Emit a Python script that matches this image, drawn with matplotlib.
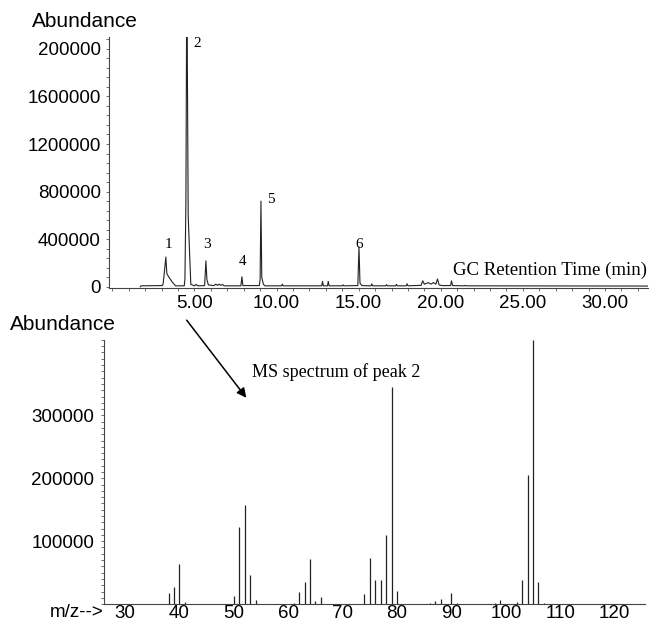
import matplotlib
matplotlib.use("Agg")
import matplotlib.pyplot as plt
from matplotlib.ticker import MultipleLocator

# --- GC chromatogram (retention time in min, abundance) ---
gc_time = [1.70, 1.75, 3.05, 3.10, 3.26, 3.32, 3.45, 3.65, 3.85, 4.38, 4.42, 4.48,
           4.52, 4.56, 4.62, 4.70, 4.78, 5.00, 5.10, 5.20, 5.62, 5.70, 5.76, 5.85,
           6.20, 6.30, 6.40, 6.50, 6.60, 6.70, 6.80, 7.83, 7.89, 7.95, 8.95, 9.00,
           9.05, 9.10, 9.20, 9.30, 10.30, 10.35, 10.40, 12.75, 12.80, 12.85, 13.10,
           13.15, 13.20, 14.00, 14.05, 14.10, 14.95, 15.02, 15.08, 15.20, 15.75,
           15.80, 15.85, 16.65, 16.70, 16.75, 17.25, 17.30, 17.35, 17.90, 17.95,
           18.00, 18.80, 18.90, 19.00, 19.25, 19.40, 19.55, 19.70, 19.80, 19.90,
           20.10, 20.60, 20.65, 20.72, 21.45, 21.50, 21.55, 32.60]
gc_abund = [0, 8000, 10000, 30000, 250000, 110000, 80000, 40000, 8000, 8000, 60000, 700000,
            2100000, 2100000, 600000, 300000, 20000, 8000, 20000, 8000, 10000, 218000, 60000, 15000,
            10000, 22000, 12000, 22000, 12000, 20000, 8000, 8000, 84000, 10000, 10000, 60000,
            720000, 80000, 20000, 8000, 8000, 22000, 8000, 8000, 45000, 8000, 8000,
            45000, 8000, 8000, 16000, 8000, 10000, 335000, 30000, 10000, 8000,
            25000, 8000, 8000, 18000, 8000, 8000, 20000, 8000, 8000, 25000,
            8000, 12000, 50000, 22000, 35000, 22000, 35000, 22000, 65000, 15000,
            10000, 10000, 50000, 10000, 8000, 12000, 8000, 6000]

gc_ticks = [5, 10, 15, 20, 25, 30]
gc_ticklabels = ["5.00", "10.00", "15.00", "20.00", "25.00", "30.00"]
gc_yticks = [0, 400000, 800000, 1200000, 1600000, 2000000]
gc_yticklabels = ["0", "400000", "800000", "1200000", "1600000", "200000"]

# peak labels: number, time, abundance
peak_names = ["1", "2", "3", "4", "5", "6"]
peak_time = [3.45, 5.15, 5.75, 7.95, 9.65, 15.05]
peak_abund = [300000, 1990000, 300000, 160000, 680000, 300000]

# --- MS spectrum of peak 2 (m/z, abundance) ---
mz = [38, 39, 40, 41, 50, 51, 52, 53, 54, 61, 62, 63, 64, 65, 66,
      74, 75, 76, 77, 78, 79, 80, 86, 87, 88, 90, 91,
      98, 99, 102, 103, 104, 105, 106, 107]
ms_abund = [17000, 27000, 64000, 3000, 13000, 123000, 157000, 46000, 6000, 2000, 19000, 35000, 72000, 5000, 11000,
            16000, 74000, 39000, 38000, 110000, 345000, 21000, 2000, 5000, 8000, 17000, 2000,
            2000, 6000, 4000, 39000, 206000, 420000, 35000, 2000]
ms_ticks = [30, 40, 50, 60, 70, 80, 90, 100, 110, 120]
ms_yticks = [100000, 200000, 300000]

sans = "Liberation Sans"
serif = "Liberation Serif"
ink = "#222222"

fig = plt.figure(figsize=(6.49, 6.26), dpi=100)

# top: chromatogram
ax1 = fig.add_axes([0.168, 0.540, 0.830, 0.401])
ax1.plot(gc_time, gc_abund, color=ink, lw=0.8)
ax1.set_xlim(-0.2, 32.6)
ax1.set_ylim(-10000, 2100000)
ax1.set_xticks(gc_ticks)
ax1.set_xticklabels(gc_ticklabels, fontfamily=sans, fontsize=13.5)
ax1.set_yticks(gc_yticks)
ax1.set_yticklabels(gc_yticklabels, fontfamily=sans, fontsize=13.5)
ax1.xaxis.set_minor_locator(MultipleLocator(1))
ax1.yaxis.set_minor_locator(MultipleLocator(80000))
ax1.tick_params(which="both", length=2, width=0.6, color="#555555")
ax1.tick_params(axis="y", pad=4)
ax1.tick_params(axis="x", pad=3)
for s in ["top", "right"]:
    ax1.spines[s].set_visible(False)
for s in ["left", "bottom"]:
    ax1.spines[s].set_linewidth(0.8)
    ax1.spines[s].set_color("#444444")
for name, t, a in zip(peak_names, peak_time, peak_abund):
    ax1.text(t, a, name, fontfamily=serif, fontsize=11, ha="center", va="bottom")
ax1.text(0.998, 0.07, "GC Retention Time (min)", transform=ax1.transAxes,
         fontfamily=serif, fontsize=13.5, ha="right", va="center")
fig.text(0.049, 0.965, "Abundance", fontfamily=sans, fontsize=15, ha="left", va="center")

# bottom: mass spectrum
ax2 = fig.add_axes([0.160, 0.035, 0.834, 0.422])
ax2.vlines(mz, 0, ms_abund, color=ink, lw=0.9)
ax2.set_xlim(26.1, 125.6)
ax2.set_ylim(0, 420000)
ax2.set_xticks(ms_ticks)
ax2.set_xticklabels([str(v) for v in ms_ticks], fontfamily=sans, fontsize=13.5)
ax2.set_yticks(ms_yticks)
ax2.set_yticklabels([str(v) for v in ms_yticks], fontfamily=sans, fontsize=13.5)
ax2.yaxis.set_minor_locator(MultipleLocator(10000))
ax2.tick_params(which="both", length=2, width=0.6, color="#555555")
ax2.tick_params(axis="y", pad=5)
ax2.tick_params(axis="x", pad=1, length=0)
for s in ["top", "right"]:
    ax2.spines[s].set_visible(False)
for s in ["left", "bottom"]:
    ax2.spines[s].set_linewidth(0.8)
    ax2.spines[s].set_color("#444444")
fig.text(0.015, 0.481, "Abundance", fontfamily=sans, fontsize=15, ha="left", va="center")
fig.text(0.077, 0.022, "m/z-->", fontfamily=sans, fontsize=13.5, ha="left", va="center")

# arrow from chromatogram to spectrum
fig.patches.append(matplotlib.patches.FancyArrowPatch(
    (185 / 649, 1 - 318 / 626), (248 / 649, 1 - 400 / 626),
    transform=fig.transFigure, arrowstyle="-|>", mutation_scale=14,
    color="black", lw=1.1))
fig.text(252 / 649, 1 - 372 / 626, "MS spectrum of peak 2", fontfamily=serif,
         fontsize=13, ha="left", va="center")

fig.savefig("out.png", dpi=100)
